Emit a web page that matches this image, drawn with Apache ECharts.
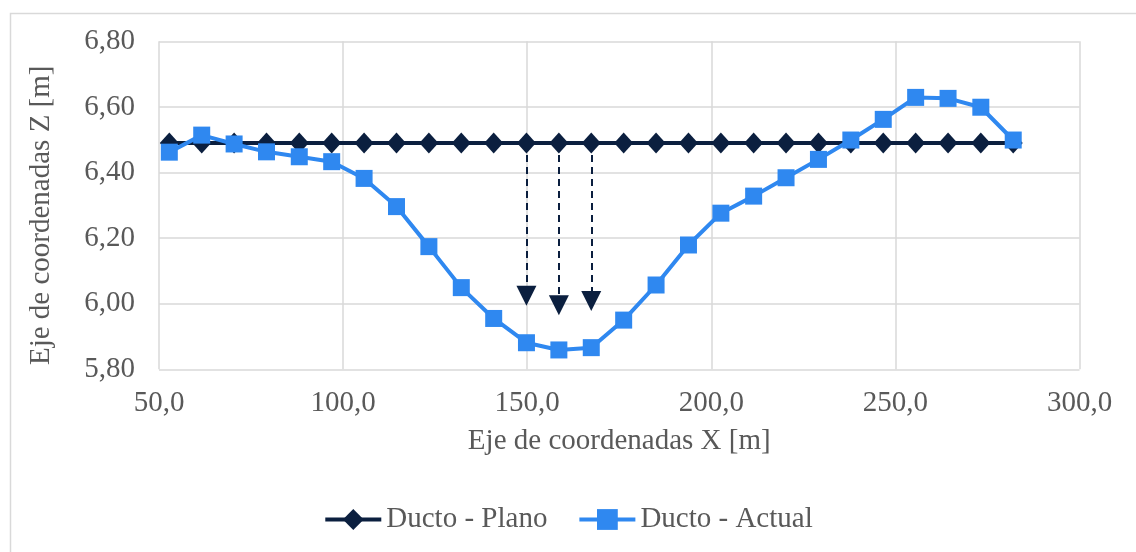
<!DOCTYPE html>
<html>
<head>
<meta charset="utf-8">
<script src="https://cdn.jsdelivr.net/npm/echarts@6/dist/echarts.min.js"></script>
<style>
html,body{margin:0;padding:0;background:#fff;}
#chart{width:1136px;height:552px;}
</style>
</head>
<body>
<div id="chart"></div>
<script>
const xValues = [52.8, 61.6, 70.4, 79.2, 88.1, 96.9, 105.7, 114.5, 123.3, 132.1, 140.9, 149.8, 158.6, 167.4, 176.2, 185.0, 193.8, 202.6, 211.5, 220.3, 229.1, 237.9, 246.7, 255.5, 264.3, 273.2, 282.0];
const planoValues = [6.49, 6.49, 6.49, 6.49, 6.49, 6.49, 6.49, 6.49, 6.49, 6.49, 6.49, 6.49, 6.49, 6.49, 6.49, 6.49, 6.49, 6.49, 6.49, 6.49, 6.49, 6.49, 6.49, 6.49, 6.49, 6.49, 6.49];
const actualValues = [6.462, 6.514, 6.487, 6.463, 6.448, 6.433, 6.382, 6.296, 6.174, 6.049, 5.955, 5.881, 5.859, 5.866, 5.950, 6.057, 6.179, 6.276, 6.328, 6.384, 6.440, 6.499, 6.562, 6.629, 6.626, 6.599, 6.499];
const arrowX = [149.8, 158.6, 167.4];
const arrowFromY = [6.49, 6.49, 6.49];
const arrowToY = [6.024, 5.995, 6.008];
const seriesNames = ['Ducto - Plano', 'Ducto - Actual'];
const xAxisTitle = 'Eje de coordenadas X [m]';
const yAxisTitle = 'Eje de coordenadas Z [m]';

const FONT = '"Liberation Serif", "Times New Roman", serif';
const TXT = '#595959';
const GRID = '#d9d9d9';
const NAVY = '#0b1f3f';
const BLUE = '#2f88f0';

const chart = echarts.init(document.getElementById('chart'), null, {renderer: 'canvas'});
const planoData = xValues.map((x, i) => [x, planoValues[i]]);
const actualData = xValues.map((x, i) => [x, actualValues[i]]);
const arrowData = arrowX.map((x, i) => [
  {coord: [x, arrowFromY[i]], symbol: 'none'},
  {coord: [x, arrowToY[i]], symbol: 'triangle', symbolSize: 20}
]);

chart.setOption({
  animation: false,
  textStyle: {fontFamily: FONT},
  graphic: [{
    type: 'rect', left: 8, top: 11, silent: true,
    shape: {width: 1200, height: 700},
    style: {fill: 'none', stroke: GRID, lineWidth: 1.5}
  }],
  grid: {left: 159, right: 56.5, top: 41.3, bottom: 182.7, containLabel: false},
  legend: {
    data: seriesNames,
    left: 'center', top: 500,
    itemWidth: 56, itemHeight: 26, itemGap: 30,
    lineStyle: {width: 4},
    textStyle: {fontFamily: FONT, fontSize: 29, color: TXT}
  },
  xAxis: {
    type: 'value', min: 50, max: 300, interval: 50,
    name: xAxisTitle, nameLocation: 'middle', nameGap: 58,
    nameTextStyle: {fontFamily: FONT, fontSize: 29, color: TXT},
    axisLine: {show: false}, axisTick: {show: false},
    axisLabel: {fontFamily: FONT, fontSize: 29, color: TXT, margin: 20,
      formatter: v => v.toFixed(1).replace('.', ',')},
    splitLine: {show: true, lineStyle: {color: GRID, width: 1.5}}
  },
  yAxis: {
    type: 'value', min: 5.8, max: 6.8, interval: 0.2,
    name: yAxisTitle, nameLocation: 'middle', nameGap: 103,
    nameTextStyle: {fontFamily: FONT, fontSize: 29, color: TXT, padding: [0, 20, 0, 0]},
    axisLine: {show: false}, axisTick: {show: false},
    axisLabel: {fontFamily: FONT, fontSize: 29, color: TXT, margin: 24,
      formatter: v => v.toFixed(2).replace('.', ',')},
    splitLine: {show: true, lineStyle: {color: GRID, width: 1.5}}
  },
  series: [
    {
      name: seriesNames[0], type: 'line', data: planoData,
      symbol: 'diamond', symbolSize: [19, 21],
      lineStyle: {color: NAVY, width: 4},
      itemStyle: {color: NAVY},
      z: 2,
      markLine: {
        silent: true, animation: false,
        symbolSize: 20,
        label: {show: false},
        lineStyle: {color: NAVY, width: 2, type: [7, 5]},
        emphasis: {disabled: true},
        data: arrowData
      }
    },
    {
      name: seriesNames[1], type: 'line', data: actualData,
      symbol: 'rect', symbolSize: 17,
      lineStyle: {color: BLUE, width: 4},
      itemStyle: {color: BLUE},
      z: 3
    }
  ]
});
</script>
</body>
</html>
